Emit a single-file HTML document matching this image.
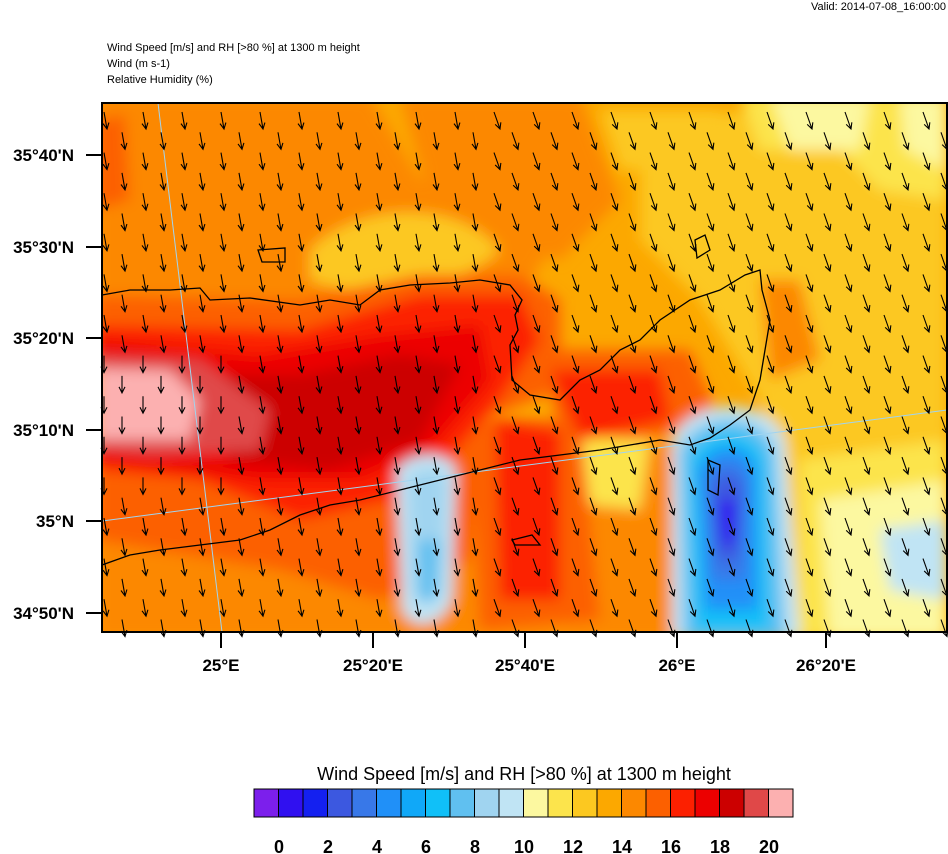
<!DOCTYPE html>
<html><head><meta charset="utf-8"><style>
html,body{margin:0;padding:0;background:#fff;width:948px;height:854px;overflow:hidden}
svg{display:block}
text{font-family:"Liberation Sans",Arial,sans-serif}
</style></head><body>
<svg id="s" width="948" height="854" viewBox="0 0 948 854" xmlns="http://www.w3.org/2000/svg">
<defs>
<clipPath id="c"><rect x="102" y="103" width="845" height="529"/></clipPath>
<filter id="b" x="-20%" y="-20%" width="140%" height="140%"><feGaussianBlur stdDeviation="7"/></filter>
</defs>
<text x="946" y="10" font-size="11" text-anchor="end">Valid: 2014-07-08_16:00:00</text>
<text x="107" y="51" font-size="11">Wind Speed [m/s] and RH [&gt;80 %] at 1300 m height</text>
<text x="107" y="67" font-size="11">Wind   (m s-1)</text>
<text x="107" y="83" font-size="11">Relative Humidity   (%)</text>
<g clip-path="url(#c)">
<rect x="102" y="103" width="845" height="529" fill="#fca800"/>
<g filter="url(#b)">
<path d="M95 95 L370 95 L420 180 L520 170 L560 230 L520 300 L300 330 L95 330Z" fill="#fc8800"/>
<path d="M400 95 L580 95 L620 200 L560 260 L480 240 L430 200Z" fill="#fc8800"/>
<path d="M95 430 L520 430 L560 640 L95 640Z" fill="#fc8800"/>
<path d="M560 460 L680 440 L690 640 L560 640Z" fill="#fc8800"/>
<path d="M640 120 L947 95 L947 640 L790 640 L760 400 L700 300 L640 240Z" fill="#fcc820"/>
<path d="M310 250 C360 200 460 200 500 250 C460 290 360 300 310 280Z" fill="#fcc820"/>
<path d="M600 110 L720 110 L720 170 L620 170Z" fill="#fcc820"/>
<path d="M740 95 L947 95 L947 200 L880 190 L840 150 L760 150Z" fill="#fce44c"/>
<path d="M770 95 L870 95 L860 150 L790 150Z" fill="#fcf8a0"/>
<path d="M900 95 L947 95 L947 170 L905 150Z" fill="#fcf8a0"/>
<path d="M800 460 L947 440 L947 640 L800 640Z" fill="#fce44c"/>
<path d="M820 500 L947 480 L947 640 L830 640Z" fill="#fcf8a0"/>
<path d="M880 530 L947 520 L947 600 L890 590Z" fill="#c0e4f4"/>
<path d="M760 280 L800 280 L820 360 L770 380Z" fill="#fc8800"/>
<path d="M580 440 L650 440 L640 510 L590 505Z" fill="#fce44c"/>
<path d="M95 120 L125 115 L130 200 L95 210Z" fill="#fc6000"/>
<path d="M95 295 L300 300 L420 275 L520 275 L560 300 L560 390 L480 420 L470 560 L380 600 L280 570 L95 540Z" fill="#fc6000"/>
<path d="M540 350 L690 350 L720 420 L640 440 L560 430Z" fill="#fc6000"/>
<path d="M470 420 L580 420 L600 620 L480 630Z" fill="#fc6000"/>
<path d="M95 325 L300 330 L420 295 L520 295 L540 340 L500 400 L440 470 L390 500 L300 520 L200 480 L95 470Z" fill="#fc2000"/>
<path d="M550 370 L660 370 L670 420 L580 440Z" fill="#fc2000"/>
<path d="M495 420 L560 430 L560 600 L500 600Z" fill="#fc2000"/>
<path d="M95 340 L260 355 L380 335 L480 325 L490 380 L430 450 L360 480 L260 480 L95 460Z" fill="#ec0000"/>
<path d="M180 375 L300 375 L400 355 L460 365 L420 440 L330 470 L230 460Z" fill="#cc0000"/>
<path d="M95 355 L200 360 L270 410 L260 450 L150 455 L95 450Z" fill="#e04848"/>
<path d="M95 368 L170 370 L200 400 L190 440 L95 440Z" fill="#fcb0b0"/>
<path d="M396 470 C410 450 450 450 456 470 L452 600 C440 630 410 630 402 610Z" fill="#c0e4f4"/>
<path d="M408 480 C420 465 440 465 446 480 L442 590 C430 610 418 610 412 590Z" fill="#a0d4f0"/>
<path d="M418 540 L440 540 L436 600 L420 600Z" fill="#60c0f0"/>
<path d="M672 440 C690 395 770 395 785 440 L800 640 L672 640Z" fill="#c0e4f4"/>
<path d="M680 450 C700 410 760 410 775 450 L785 640 L684 640Z" fill="#60c0f0"/>
<path d="M690 460 C705 425 755 425 765 460 L770 630 L695 630Z" fill="#10c0f8"/>
<path d="M698 470 C712 440 748 440 756 470 L758 610 L705 610Z" fill="#2090f8"/>
<path d="M706 480 C715 455 742 455 748 480 L745 580 L712 580Z" fill="#3878e8"/>
<path d="M712 490 C720 470 738 470 742 490 L738 560 L718 560Z" fill="#3c58e0"/>
<path d="M718 500 L736 500 L734 545 L722 545Z" fill="#3010f0"/>
</g>
<g stroke="#a0d4f0" stroke-width="1" fill="none">
<line x1="158" y1="103" x2="222" y2="632"/>
<line x1="102" y1="521" x2="947" y2="410"/>
</g>
<g stroke="#000" stroke-width="1.3" fill="none">
<path d="M102 295 L130 290 L170 290 L200 288 L210 300 L250 298 L300 305 L330 300 L360 305 L380 290 L410 285 L450 283 L480 280 L510 285 L522 300 L515 315 L518 330 L510 345 L512 380 L530 395 L560 400 L580 380 L600 370 L620 350 L640 340 L660 320 L690 300 L720 290 L745 275 L760 270 L762 290 L770 320 L765 350 L760 380 L750 410 L730 425 L710 438 L690 445 L660 440 L630 445 L600 450 L560 455 L520 460 L480 470 L440 480 L400 490 L360 500 L330 505 L300 515 L270 530 L240 540 L200 545 L160 550 L130 555 L102 565"/>
<path d="M258 250 L285 248 L285 262 L262 262Z"/>
<path d="M695 240 L705 235 L710 250 L697 258Z"/>
<path d="M512 540 L532 535 L540 545 L515 545Z"/>
<path d="M708 460 L720 465 L718 495 L708 490Z"/>
</g>
</g>
<g id="arr" stroke="#000" stroke-width="1.1" fill="none"></g>
<rect x="102" y="103" width="845" height="529" fill="none" stroke="#000" stroke-width="2"/>
<g stroke="#000" stroke-width="2">
<line x1="86" y1="155" x2="102" y2="155"/><line x1="86" y1="247" x2="102" y2="247"/>
<line x1="86" y1="338" x2="102" y2="338"/><line x1="86" y1="430" x2="102" y2="430"/>
<line x1="86" y1="521" x2="102" y2="521"/><line x1="86" y1="613" x2="102" y2="613"/>
<line x1="221" y1="632" x2="221" y2="648"/><line x1="373" y1="632" x2="373" y2="648"/>
<line x1="525" y1="632" x2="525" y2="648"/><line x1="677" y1="632" x2="677" y2="648"/>
<line x1="826" y1="632" x2="826" y2="648"/>
</g>
<g font-size="17" text-anchor="end" font-weight="bold">
<text x="74" y="161">35°40'N</text><text x="74" y="253">35°30'N</text>
<text x="74" y="344">35°20'N</text><text x="74" y="436">35°10'N</text>
<text x="74" y="527">35°N</text><text x="74" y="619">34°50'N</text>
</g>
<g font-size="17" text-anchor="middle" font-weight="bold">
<text x="221" y="671">25°E</text><text x="373" y="671">25°20'E</text>
<text x="525" y="671">25°40'E</text><text x="677" y="671">26°E</text>
<text x="826" y="671">26°20'E</text>
</g>
<text x="524" y="780" font-size="18" text-anchor="middle">Wind Speed [m/s] and RH [&gt;80 %] at 1300 m height</text>
<g id="cb" stroke="#000" stroke-width="1"></g>
<g id="cbl" font-size="18" text-anchor="middle" font-weight="bold">
<text x="279" y="853">0</text><text x="328" y="853">2</text><text x="377" y="853">4</text>
<text x="426" y="853">6</text><text x="475" y="853">8</text><text x="524" y="853">10</text>
<text x="573" y="853">12</text><text x="622" y="853">14</text><text x="671" y="853">16</text>
<text x="720" y="853">18</text><text x="769" y="853">20</text>
</g>
</svg>
<script>
var ns="http://www.w3.org/2000/svg";
var cols=["#7c1fec","#3010f0","#1420f0","#3c58e0","#3878e8","#2090f8","#10a8f8","#10c0f8","#60c0f0","#a0d4f0","#c0e4f4","#fcf8a0","#fce44c","#fcc820","#fca800","#fc8800","#fc6000","#fc2000","#ec0000","#cc0000","#e04848","#fcb0b0"];
var cb=document.getElementById("cb");
for(var i=0;i<22;i++){var r=document.createElementNS(ns,"rect");r.setAttribute("x",254+i*24.5);r.setAttribute("y",789);r.setAttribute("width",24.5);r.setAttribute("height",28);r.setAttribute("fill",cols[i]);cb.appendChild(r);}
var g=document.getElementById("arr");
var row=0;
for(var y=112;y<625;y+=20.3){
 var off=(row%2==0)?143:122;
 for(var x=off-39;x<947;x+=39){
  if(x<104)continue;
  var dx=(x<480)?3:6, dy=17;
  if(x<230&&y>340&&y<480){dx=0;}
  var x2=x+dx,y2=y+dy;
  var L=Math.sqrt(dx*dx+dy*dy),ux=dx/L,uy=dy/L;
  var p=document.createElementNS(ns,"path");
  var hx1=x2-6*ux+3*uy,hy1=y2-6*uy-3*ux,hx2=x2-6*ux-3*uy,hy2=y2-6*uy+3*ux;
  p.setAttribute("d","M"+x+" "+y+" L"+x2+" "+y2+" M"+hx1+" "+hy1+" L"+x2+" "+y2+" L"+hx2+" "+hy2);
  g.appendChild(p);
 }
 row++;
}
</script>
</body></html>
